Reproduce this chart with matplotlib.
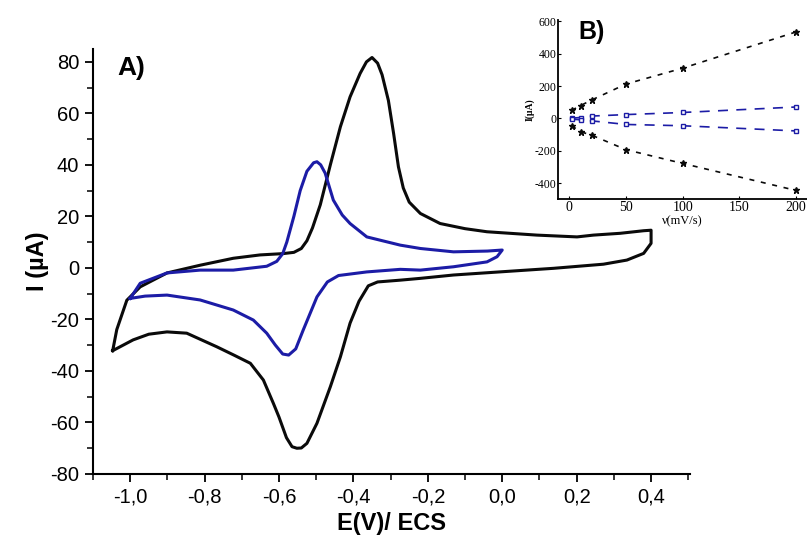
import numpy as np
import matplotlib
matplotlib.use('Agg')
import matplotlib.pyplot as plt
from matplotlib.ticker import MultipleLocator

plt.rcParams['axes.unicode_minus'] = False

# ---------------------------------------------
# Voltammogram data (E in V, I in uA)
# ---------------------------------------------

# black CV, anodic sweep (-1.05 -> 0.4 V)
E_black_fwd = [-1.047, -1.036, -1.009, -0.973, -0.901, -0.812, -0.723, -0.651, -0.590,
               -0.560, -0.540, -0.525, -0.510, -0.489, -0.462, -0.435, -0.409, -0.382,
               -0.365, -0.350, -0.335, -0.323, -0.306, -0.292, -0.279, -0.266, -0.250,
               -0.220, -0.167, -0.100, -0.041, 0.093, 0.201, 0.245, 0.317, 0.380, 0.400]
I_black_fwd = [-32.2, -24.0, -12.6, -7.4, -2.0, 1.0, 3.7, 5.0, 5.5,
               6.0, 7.5, 10.5, 15.5, 24.5, 40.0, 54.8, 66.4, 75.5,
               80.0, 81.7, 79.5, 75.0, 65.0, 52.2, 39.2, 31.0, 25.5,
               21.1, 17.2, 15.2, 14.0, 12.7, 12.0, 12.7, 13.4, 14.4, 14.6]

# black CV, cathodic sweep (0.4 -> -1.05 V)
E_black_rev = [0.400, 0.380, 0.335, 0.272, 0.138, 0.003, -0.131, -0.220, -0.274,
               -0.335, -0.360, -0.385, -0.409, -0.435, -0.462, -0.498, -0.525, -0.540,
               -0.552, -0.565, -0.580, -0.600, -0.615, -0.642, -0.677, -0.720, -0.767,
               -0.848, -0.901, -0.950, -0.992, -1.047]
I_black_rev = [9.5, 5.6, 3.0, 1.4, -0.2, -1.5, -2.8, -4.1, -4.8,
               -5.5, -7.0, -13.0, -21.5, -34.6, -46.2, -60.4, -68.2, -70.0,
               -70.1, -69.5, -66.0, -58.0, -52.7, -43.6, -37.1, -34.0, -30.7,
               -25.4, -24.9, -25.8, -28.0, -32.2]

# blue CV, anodic sweep (-1.0 -> 0.0 V)
E_blue_fwd = [-1.0, -0.973, -0.901, -0.812, -0.723, -0.633, -0.606, -0.590, -0.579,
              -0.560, -0.543, -0.525, -0.507, -0.498, -0.488, -0.476, -0.454, -0.430,
              -0.409, -0.364, -0.274, -0.220, -0.131, -0.040, 0.0]
I_blue_fwd = [-11.9, -6.0, -2.0, -0.9, -0.9, 0.6, 2.5, 5.5, 10.0,
              20.0, 30.0, 37.5, 40.8, 41.2, 40.0, 36.8, 26.3, 20.5,
              17.2, 12.0, 8.8, 7.5, 6.2, 6.5, 6.9]

# blue CV, cathodic sweep (0.0 -> -1.0 V)
E_blue_rev = [0.0, -0.014, -0.041, -0.131, -0.220, -0.274, -0.364, -0.440, -0.470,
              -0.498, -0.535, -0.555, -0.574, -0.590, -0.610, -0.633, -0.669, -0.723,
              -0.812, -0.901, -0.960, -1.0]
I_blue_rev = [6.9, 4.3, 2.3, 0.4, -0.9, -0.6, -1.6, -3.0, -5.5,
              -11.3, -24.2, -31.5, -33.9, -33.5, -30.0, -25.4, -20.3, -16.4,
              -12.5, -10.6, -11.0, -11.9]

x_ticks = [-1.0, -0.8, -0.6, -0.4, -0.2, 0.0, 0.2, 0.4]
x_tick_labels = ['-1,0', '-0,8', '-0,6', '-0,4', '-0,2', '0,0', '0,2', '0,4']
y_ticks = [-80, -60, -40, -20, 0, 20, 40, 60, 80]

# inset B: peak currents vs scan rate
v_scan = [2, 10, 20, 50, 100, 200]
Ipa_black = [50, 80, 115, 213, 311, 535]
Ipc_black = [-45, -82, -104, -193, -278, -445]
Ipa_blue = [2, 6, 15, 24, 37, 71]
Ipc_blue = [-4, -8, -15, -37, -45, -77]
inset_x_ticks = [0, 50, 100, 150, 200]
inset_y_ticks = [-400, -200, 0, 200, 400, 600]

black = '#0a0a0a'
blue = '#1c1ca6'

# ---------------------------------------------
# Main plot A)
# ---------------------------------------------
fig = plt.figure(figsize=(8.07, 5.39), dpi=100)
ax = fig.add_axes([0.1152, 0.1211, 0.740, 0.788])

ax.plot(E_black_fwd + E_black_rev, I_black_fwd + I_black_rev, color=black, lw=2.2)
ax.plot(E_blue_fwd + E_blue_rev, I_blue_fwd + I_blue_rev, color=blue, lw=2.2)

ax.set_xlim(-1.1, 0.505)
ax.set_ylim(-80, 85)
ax.set_xticks(x_ticks)
ax.set_xticklabels(x_tick_labels)
ax.set_yticks(y_ticks)
ax.xaxis.set_minor_locator(MultipleLocator(0.1))
ax.yaxis.set_minor_locator(MultipleLocator(10))

for s in ['top', 'right']:
    ax.spines[s].set_visible(False)
for s in ['left', 'bottom']:
    ax.spines[s].set_linewidth(1.5)

ax.tick_params(which='major', direction='out', length=6, width=1.3,
               labelsize=14.5, pad=4)
ax.tick_params(which='minor', direction='out', length=4, width=1.1)
for lab in ax.get_xticklabels() + ax.get_yticklabels():
    lab.set_family('Liberation Sans')

ax.set_xlabel('E(V)/ ECS', fontsize=17, fontweight='bold', family='Liberation Sans', labelpad=4)
ax.set_ylabel('I (\u00b5A)', fontsize=17, fontweight='bold', family='Liberation Sans', labelpad=1)
ax.text(0.04, 0.955, 'A)', transform=ax.transAxes, fontsize=19, fontweight='bold',
        family='Liberation Sans', va='center')

# ---------------------------------------------
# Inset B)
# ---------------------------------------------
axin = fig.add_axes([0.6914, 0.6302, 0.309, 0.333])
axin.plot(v_scan, Ipa_black, '--*', color=black, lw=1.2, ms=5, dashes=(3, 4))
axin.plot(v_scan, Ipc_black, '--*', color=black, lw=1.2, ms=5, dashes=(3, 4))
axin.plot(v_scan, Ipa_blue, '--s', color=blue, lw=1.2, ms=3.5, mfc='white', dashes=(6, 5))
axin.plot(v_scan, Ipc_blue, '--s', color=blue, lw=1.2, ms=3.5, mfc='white', dashes=(6, 5))

axin.set_xlim(-10, 210)
axin.set_ylim(-500, 610)
axin.set_xticks(inset_x_ticks)
axin.set_yticks(inset_y_ticks)
for s in ['top', 'right']:
    axin.spines[s].set_visible(False)
for s in ['left', 'bottom']:
    axin.spines[s].set_linewidth(1.3)
axin.tick_params(direction='in', length=2, width=0.8, pad=1)
axin.tick_params(axis='x', labelsize=10)
axin.tick_params(axis='y', labelsize=8.5)
for lab in axin.get_xticklabels() + axin.get_yticklabels():
    lab.set_family('Liberation Serif')
axin.set_xlabel('\u03bd(mV/s)', fontsize=9, family='Liberation Serif', labelpad=1)
axin.set_ylabel('I(\u03bcA)', fontsize=7, fontweight='bold', family='Liberation Serif', labelpad=0)
axin.text(0.08, 0.93, 'B)', transform=axin.transAxes, fontsize=18, fontweight='bold',
          family='Liberation Sans', va='center')

plt.savefig('out.png', dpi=100)
